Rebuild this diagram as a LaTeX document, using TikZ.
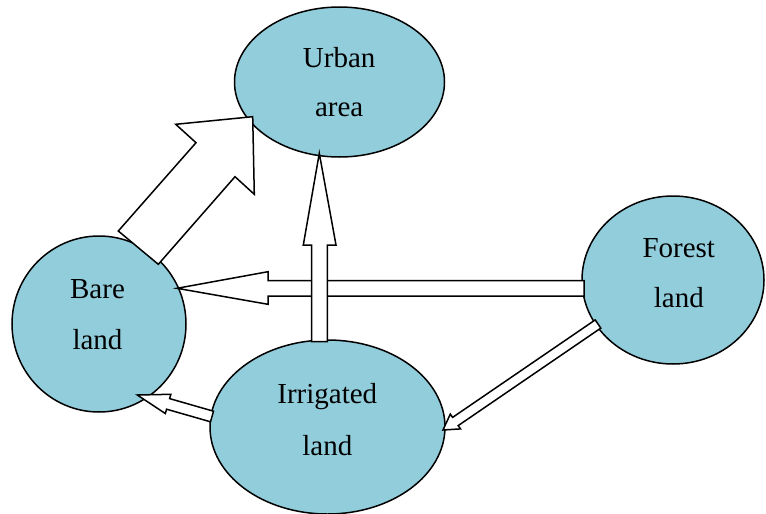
\documentclass[tikz,border=0pt]{standalone}
\usepackage{fontspec}
\setmainfont{Liberation Serif}
\usetikzlibrary{shapes.geometric}
\definecolor{landblue}{HTML}{92CDDC}
\tikzset{
  region/.style={ellipse, draw=black, line width=1.5pt, fill=landblue, inner sep=0pt},
  label/.style={anchor=base, font=\fontsize{29}{31}\selectfont, inner sep=0pt},
  blockarrow/.style={draw=black, fill=white, line width=1.5pt, line join=miter}
}
\begin{document}
\begin{tikzpicture}[x=1pt,y=-1pt]
\useasboundingbox (0,0) rectangle (766,514);
% regions
\node[region, minimum width=210pt, minimum height=150pt] (urban) at (339.5,82) {};
\node[region, minimum width=174pt, minimum height=176pt] (bare) at (99,324) {};
\node[region, minimum width=182pt, minimum height=168pt] (forest) at (673,280) {};
\node[region, minimum width=235pt, minimum height=174pt] (irrig) at (327.5,427) {};
% labels
\node[label] (urbanA) at (339.2,67) {Urban};
\node[label] (urbanB) at (339.2,116.5) {area};
\node[label] (bareA) at (97.5,298.3) {Bare};
\node[label] (bareB) at (97.5,349) {land};
\node[label] (forestA) at (678.8,257.3) {Forest};
\node[label] (forestB) at (678.8,307.7) {land};
\node[label] (irrigA) at (327.3,403.5) {Irrigated};
\node[label] (irrigB) at (327.3,455.5) {land};
% forest -> bare
\draw[blockarrow] (177,288.3) -- (268,271.7) -- (268,280.7) -- (584,280.7) -- (584,296) -- (268,296) -- (268,304.3) -- cycle;
% irrigated -> urban
\draw[blockarrow] (319.3,153.3) -- (336,245) -- (327.4,245) -- (327.4,341.7) -- (311.6,341.7) -- (311.6,245) -- (303.3,245) -- cycle;
% bare -> urban
\draw[blockarrow] (118.3,231) -- (196,142.7) -- (175.7,124.3) -- (252.7,116.7) -- (254.3,194.3) -- (235,176.7) -- (158.3,264.3) -- cycle;
% forest -> irrigated
\draw[blockarrow] (443,430) -- (460.5,428.9) -- (458.2,425.6) -- (600.8,328.1) -- (595.2,319.9) -- (452.6,417.4) -- (450.3,414.1) -- cycle;
% irrigated -> bare
\draw[blockarrow] (137.3,395) -- (170.9,394.3) -- (169.6,398.6) -- (213.5,411.2) -- (210.5,421.8) -- (166.6,409.2) -- (165.3,413.5) -- cycle;
\end{tikzpicture}
\end{document}
